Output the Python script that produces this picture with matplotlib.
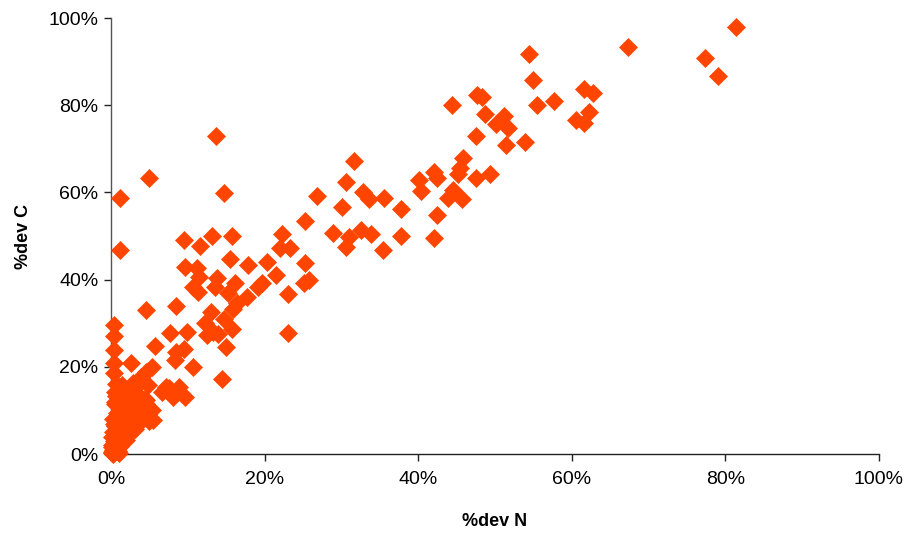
import matplotlib
matplotlib.use("Agg")
import matplotlib.pyplot as plt
from matplotlib.ticker import FuncFormatter

plt.rcParams['font.family'] = ['Liberation Sans', 'DejaVu Sans']

# %dev N (x) and %dev C (y), in percent
dev_n = [
    81.4, 67.3, 77.3, 79.0, 54.4, 55.0, 61.6, 62.8, 62.2, 61.6, 60.5,
    47.7, 48.3, 44.4, 55.5, 57.7, 48.7, 51.2, 50.2, 51.7, 47.5, 51.4, 53.9,
    45.9, 45.4, 45.2, 42.1, 42.4, 40.1, 40.4, 47.5, 49.4, 44.6, 43.9, 45.7,
    37.8, 42.4, 37.8, 42.1,
    31.6, 14.7, 30.6, 26.8, 32.8, 33.6, 35.6, 30.1, 25.3, 28.9, 31.0, 32.6,
    33.9, 30.6, 35.4, 13.2, 15.8, 22.3, 22.0, 23.3, 11.6, 15.5, 17.8, 20.3,
    25.3, 21.5, 25.1, 25.8, 13.8, 13.5, 16.2, 15.3, 19.2, 19.7, 17.7, 16.4,
    15.9, 23.1, 23.1, 13.0, 14.7, 12.2, 13.3, 15.7, 15.0, 11.2, 11.5,
    4.9, 1.2, 1.2, 9.5, 9.7, 10.7, 11.3, 4.6, 8.5, 13.7, 14.4,
    0.4, 0.4, 7.7, 9.9, 13.9, 12.5, 5.7, 0.4, 9.5, 8.5, 8.3, 0.4, 0.4,
    2.6, 5.4, 4.5, 3.9, 10.7, 8.8, 9.6, 7.5, 8.1,
    1.4, 2.9, 0.5, 3.3, 4.8, 6.6, 7.2, 5.1, 5.5, 3.6, 4.6, 3.8,
    0.1, 0.2, 0.3, 0.5, 0.2, 0.8, 1.0, 0.4, 1.2, 0.6, 1.5, 1.8, 0.3, 1.0,
    2.2, 1.8, 0.5, 2.8, 1.2, 2.2, 0.3, 3.3, 1.6, 2.8, 0.8, 3.6, 2.0, 1.2,
    3.0, 4.0, 0.5, 2.5, 4.5, 1.5, 3.5, 0.7, 2.0, 3.2, 1.2, 0.5, 2.6, 1.5,
    0.6, 0.1, 0.9, 1.2, 1.9, 1.5, 2.4, 2.8, 2.7, 3.1, 4.2, 4.8, 5.3, 5.0,
    4.4, 0.3, 0.6, 1.1, 0.2, 0.4, 0.7,
]
dev_c = [
    97.9, 93.3, 90.8, 86.7, 91.7, 85.8, 83.7, 82.8, 78.4, 75.9, 76.6,
    82.3, 81.8, 80.0, 80.0, 81.0, 77.9, 77.5, 75.6, 74.7, 72.9, 70.8, 71.6,
    67.8, 65.7, 64.2, 64.7, 63.2, 62.8, 60.4, 63.2, 64.2, 60.6, 58.8, 58.4,
    56.1, 54.8, 50.0, 49.5,
    67.3, 59.8, 62.3, 59.2, 60.0, 58.6, 58.8, 56.6, 53.5, 50.8, 49.7, 51.4,
    50.4, 47.5, 46.9, 49.9, 49.9, 50.4, 47.3, 47.2, 47.6, 44.7, 43.3, 44.1,
    43.7, 41.1, 39.3, 39.9, 40.3, 38.4, 39.3, 37.0, 38.4, 39.2, 36.1, 34.6,
    33.2, 36.7, 27.8, 32.6, 30.9, 30.0, 28.1, 28.7, 24.6, 42.6, 40.7,
    63.2, 58.8, 46.8, 49.1, 42.8, 38.4, 37.2, 33.0, 34.0, 72.9, 17.1,
    29.6, 27.1, 27.8, 27.9, 27.6, 27.3, 24.8, 23.9, 24.2, 23.3, 21.6, 20.9, 18.6,
    20.9, 20.0, 18.9, 17.7, 19.9, 15.4, 13.1, 15.1, 13.1,
    15.8, 16.4, 14.3, 15.5, 15.8, 14.2, 15.3, 10.1, 7.8, 10.8, 12.4, 13.1,
    0.2, 0.5, 1.0, 1.5, 2.0, 1.2, 2.5, 3.0, 3.5, 4.0, 4.2, 5.0, 5.0, 5.5,
    6.0, 6.5, 6.5, 7.0, 7.2, 7.8, 8.0, 8.3, 8.8, 9.0, 9.5, 9.8, 10.2, 10.8,
    11.0, 10.5, 11.5, 12.0, 11.5, 12.5, 12.8, 13.2, 13.6, 14.0, 14.5, 12.0, 15.2, 13.8,
    2.8, 3.8, 0.6, 1.8, 3.2, 2.6, 4.5, 5.5, 8.2, 5.8, 8.0, 9.2, 10.0, 7.6,
    12.6, 0.0, 0.8, 0.3, 1.5, 6.8, 16.0,
]

x_ticks = [0, 20, 40, 60, 80, 100]
y_ticks = [0, 20, 40, 60, 80, 100]

fig = plt.figure(figsize=(9.08, 5.38), dpi=100)
ax = fig.add_axes([0.1222, 0.1561, 0.8458, 0.8104])

ax.plot(dev_n, dev_c, linestyle='none', marker='D', markersize=9.3,
        color='#FF4500', markeredgecolor='#FF4500', markeredgewidth=0.5,
        clip_on=False, zorder=3)

ax.set_xlim(0, 100)
ax.set_ylim(0, 100)
ax.set_xticks(x_ticks)
ax.set_yticks(y_ticks)
fmt = FuncFormatter(lambda v, p: f"{int(round(v))}%")
ax.xaxis.set_major_formatter(fmt)
ax.yaxis.set_major_formatter(fmt)

for s in ['top', 'right']:
    ax.spines[s].set_visible(False)
ax.spines['left'].set_color('#555555')
ax.spines['bottom'].set_color('#222222')
ax.spines['left'].set_linewidth(1.0)
ax.spines['bottom'].set_linewidth(1.0)
ax.tick_params(axis='both', direction='out', length=5, width=1.0,
               labelsize=14, colors='#222222', labelcolor='black')
ax.tick_params(axis='x', pad=7)
ax.tick_params(axis='y', pad=4)

ax.set_xlabel('%dev N', fontsize=13, fontweight='bold', labelpad=18)
ax.set_ylabel('%dev C', fontsize=13, fontweight='bold', labelpad=12)

fig.savefig('out.png', dpi=100)
